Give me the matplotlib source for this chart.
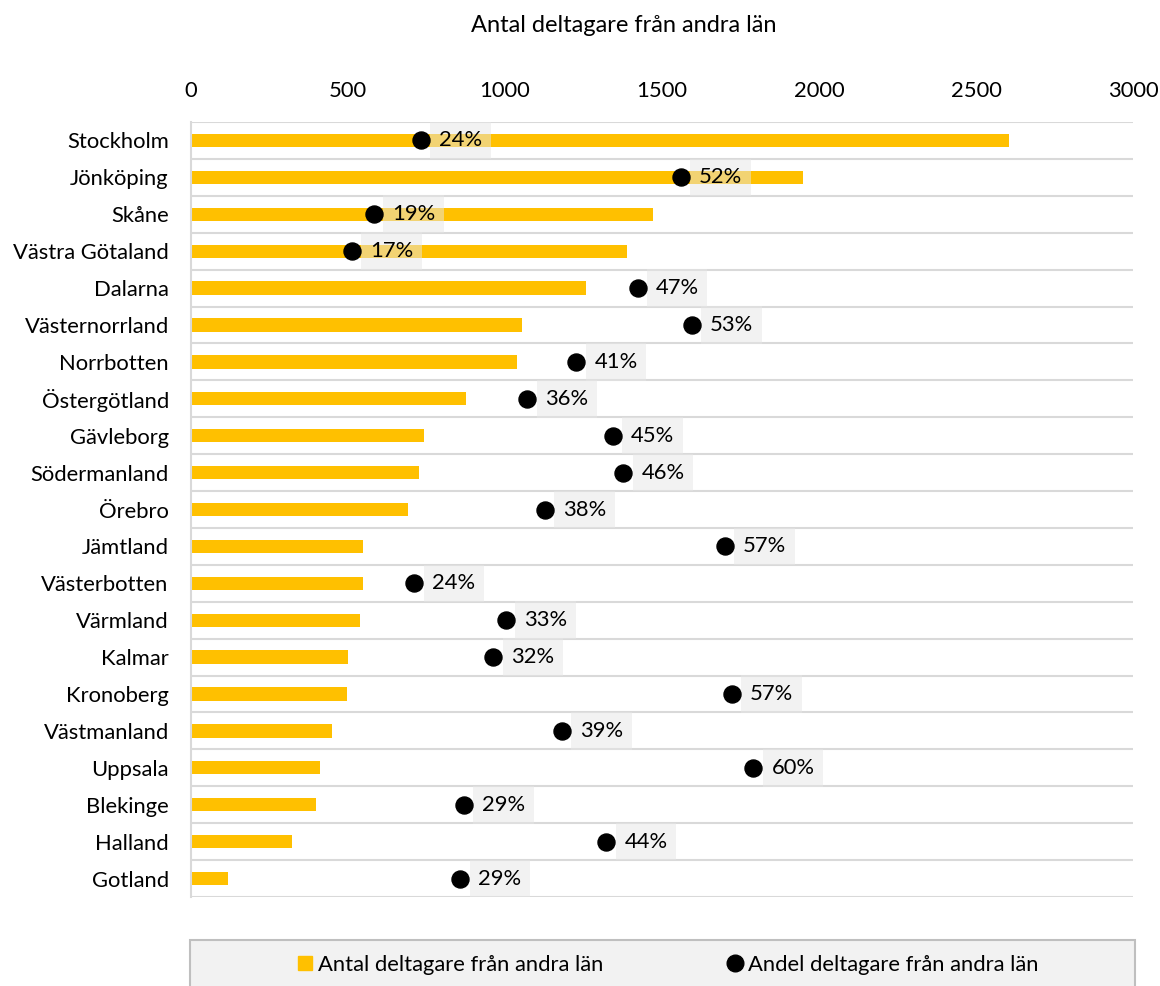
"""Antal och andel deltagare från andra län, per län."""
import matplotlib.pyplot as plt
from matplotlib.lines import Line2D
from matplotlib.patches import Rectangle
import numpy as np

plt.rcParams['font.family'] = ['Lato', 'DejaVu Sans']

lan = ['Stockholm', 'Jönköping', 'Skåne', 'Västra Götaland', 'Dalarna', 'Västernorrland',
       'Norrbotten', 'Östergötland', 'Gävleborg', 'Södermanland', 'Örebro', 'Jämtland',
       'Västerbotten', 'Värmland', 'Kalmar', 'Kronoberg', 'Västmanland', 'Uppsala',
       'Blekinge', 'Halland', 'Gotland']
antal = [2605, 1949, 1471, 1389, 1258, 1054, 1038, 876, 742, 726, 691, 548,
         548, 538, 500, 497, 449, 411, 398, 322, 118]
andel = [24.4, 52.0, 19.4, 17.1, 47.4, 53.2, 40.9, 35.7, 44.8, 45.9, 37.6, 56.7,
         23.7, 33.4, 32.1, 57.4, 39.4, 59.7, 29.0, 44.1, 28.6]
xticks = [0, 500, 1000, 1500, 2000, 2500, 3000]

W, H = 1160, 986
fs = 15.8
fig = plt.figure(figsize=(W/100, H/100), dpi=100)
ax = fig.add_axes([191/W, 1-897/H, 942/W, 775/H])
y = np.arange(len(lan))

ax.barh(y, antal, height=0.36, color='#FFC000', zorder=2)
ax.hlines(np.arange(len(lan)+1)-0.5, 0, 3000, color='#d9d9d9', lw=1.5, zorder=1)
ax.set_xlim(0, 3000)
ax.set_ylim(len(lan)-0.5, -0.5)
for s in ['top', 'right', 'bottom']:
    ax.spines[s].set_visible(False)
ax.spines['left'].set_color('#d9d9d9')
ax.spines['left'].set_linewidth(1.5)

ax2 = ax.twiny()
ax2.set_xlim(0, 100)
ax2.axis('off')
ax2.scatter(andel, y, s=150, color='black', zorder=4)
for v, yy in zip(andel, y):
    ax2.annotate(f'{round(v)}%', (v, yy), xytext=(13, 0), textcoords='offset points',
                 ha='left', va='center', fontsize=fs, zorder=3,
                 bbox=dict(boxstyle='square,pad=0.4', fc=(0.9, 0.9, 0.9), alpha=0.5, ec='none'))

# twiny moves the primary ticks to the bottom, so set them after it
ax.set_yticks(y, lan, fontsize=fs)
ax.set_xticks(xticks, [str(t) for t in xticks], fontsize=fs)
ax.xaxis.tick_top()
ax.tick_params(axis='x', length=0, pad=15)
ax.tick_params(axis='y', length=0, pad=16)

fig.text(624/W, 1-25/H, 'Antal deltagare från andra län', ha='center', va='center', fontsize=17)

fig.patches.append(Rectangle((190/W, -0.02), 945/W, 46/H+0.02, transform=fig.transFigure,
                             fc='#f2f2f2', ec='#bfbfbf', lw=1.5, zorder=0))
handles = [Line2D([], [], ls='none', marker='s', ms=10, color='#FFC000'),
           Line2D([], [], ls='none', marker='o', ms=12, color='black')]
fig.legend(handles, ['Antal deltagare från andra län', 'Andel deltagare från andra län'],
           loc='center', bbox_to_anchor=(666/W, 1-965/H), ncol=2, frameon=False,
           fontsize=fs, handletextpad=0.1, handlelength=1.0, columnspacing=5.5)

fig.savefig('out.png', dpi=100)
